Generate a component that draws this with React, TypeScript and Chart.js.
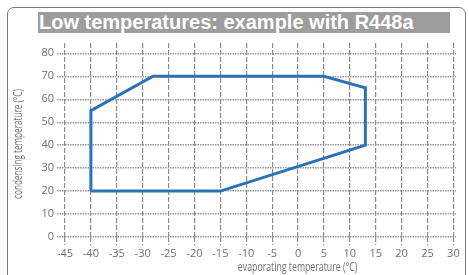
import React, { useEffect, useRef } from "react";
import { Chart, registerables } from "chart.js";

Chart.register(...registerables);

const chartTitle = "Low temperatures: example with R448a";
const xAxisTitle = "evaporating temperature (°C)";
const yAxisTitle = "condensing temperature (°C)";
const evapTemps = [-40, -40, -28, 5, 13, 13, -15, -40];
const condTemps = [20, 55, 70, 70, 65, 40, 20, 20];
const xTicks = [-45, -40, -35, -30, -25, -20, -15, -10, -5, 0, 5, 10, 15, 20, 25, 30];
const yTicks = [0, 10, 20, 30, 40, 50, 60, 70, 80];

const axisTitles = {
  id: "axisTitles",
  afterDraw(chart: any) {
    const { ctx, chartArea } = chart;
    ctx.save();
    ctx.fillStyle = "#6f6f6f";
    ctx.font = '12px "Open Sans", sans-serif';
    ctx.textAlign = "center";
    ctx.textBaseline = "middle";
    const w = chartArea.right - chartArea.left;
    ctx.save();
    ctx.translate(chartArea.left + w * 0.595, 268);
    ctx.scale(0.73, 1);
    ctx.fillText(xAxisTitle, 0, 0);
    ctx.restore();
    ctx.translate(19, (chartArea.top + chartArea.bottom) / 2 + 4);
    ctx.rotate(-Math.PI / 2);
    ctx.scale(0.68, 1);
    ctx.fillText(yAxisTitle, 0, 0);
    ctx.restore();
  },
};

export default function App() {
  const ref = useRef<HTMLCanvasElement>(null);
  useEffect(() => {
    if (!ref.current) return;
    const chart = new Chart(ref.current, {
      type: "scatter",
      data: {
        datasets: [
          {
            data: evapTemps.map((x, i) => ({ x, y: condTemps[i] })),
            showLine: true,
            borderColor: "#2b72b4",
            borderWidth: 3,
            pointRadius: 0,
            fill: false,
            tension: 0,
          },
        ],
      },
      options: {
        responsive: false,
        animation: false,
        layout: { padding: { left: 0, right: 13, top: 43, bottom: 0 } },
        plugins: { legend: { display: false }, tooltip: { enabled: false } },
        scales: {
          x: {
            type: "linear",
            min: -45,
            max: 30.5,
            afterFit: (s: any) => {
              s.height = 38;
            },
            afterBuildTicks: (s: any) => {
              s.ticks = xTicks.map((v) => ({ value: v }));
            },
            ticks: {
              color: "#707070",
              font: { family: "'Open Sans', sans-serif", size: 11 },
              padding: 2,
              maxRotation: 0,
              autoSkip: false,
            },
            grid: {
              color: "#8c8c8c",
              lineWidth: 1.2,
              tickLength: 8,
              tickBorderDash: [5, 2],
            },
            border: { display: false, dash: [5, 2] },
          },
          y: {
            type: "linear",
            min: 0,
            max: 84.5,
            afterFit: (s: any) => {
              s.width = 65;
            },
            afterBuildTicks: (s: any) => {
              s.ticks = yTicks.map((v) => ({ value: v }));
            },
            ticks: {
              color: "#707070",
              font: { family: "'Open Sans', sans-serif", size: 11 },
              padding: 3,
              autoSkip: false,
            },
            grid: {
              color: "#959595",
              lineWidth: 1.4,
              tickLength: 8,
              tickBorderDash: [1.5, 1],
            },
            border: { display: false, dash: [1.5, 1] },
          },
        },
      } as any,
      plugins: [axisTitles],
    });
    return () => chart.destroy();
  }, []);

  return (
    <div style={{ position: "absolute", left: 0, top: 0, width: 469, height: 275, overflow: "hidden", background: "#fff" }}>
      <div
        style={{
          position: "absolute",
          left: 7,
          top: 7,
          width: 459,
          height: 320,
          border: "1.5px solid #7a7a7a",
          borderRadius: 7,
          boxSizing: "border-box",
        }}
      />
      <canvas ref={ref} width={469} height={275} style={{ position: "absolute", left: 0, top: 0 }} />
      <div
        style={{
          position: "absolute",
          left: 38,
          top: 12,
          width: 412,
          height: 21,
          background: "#9d9d9d",
          color: "#fff",
          fontFamily: "'Liberation Sans', Arial, sans-serif",
          fontWeight: "bold",
          fontSize: 20,
          lineHeight: "21px",
          paddingLeft: 1,
          boxSizing: "border-box",
          whiteSpace: "nowrap",
          overflow: "hidden",
        }}
      >
        {chartTitle}
      </div>
    </div>
  );
}
